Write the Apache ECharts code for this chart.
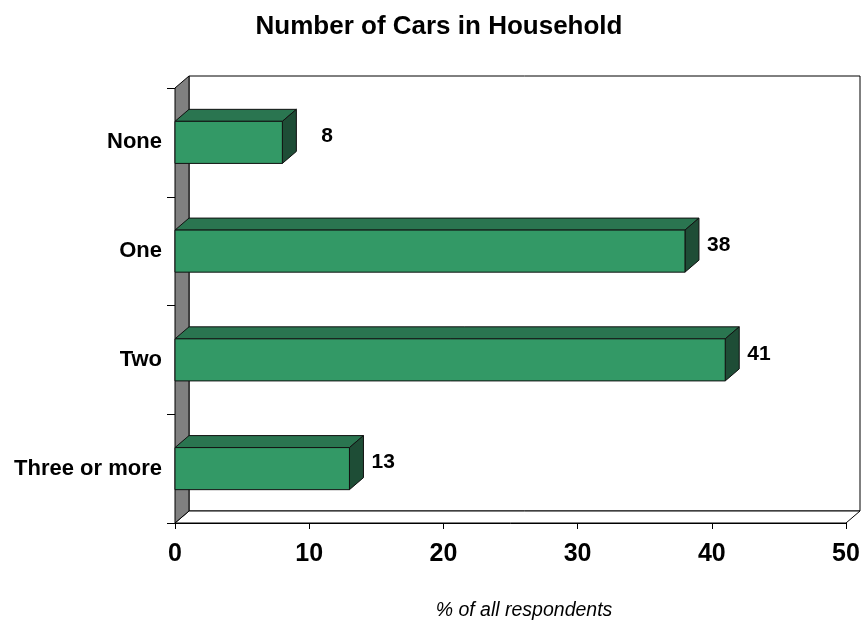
<!DOCTYPE html>
<html>
<head>
<meta charset="utf-8">
<script src="https://cdn.jsdelivr.net/npm/echarts@6/dist/echarts.min.js"></script>
<style>
  html, body { margin: 0; padding: 0; background: #ffffff; }
  #chart { width: 865px; height: 623px; }
</style>
</head>
<body>
<div id="chart"></div>
<script>
// Households by number of cars (% of all respondents)
const categories = ['None', 'One', 'Two', 'Three or more'];
const shares = [8, 38, 41, 13];
const xTicks = { min: 0, max: 50, step: 10 };

// Pseudo-3D depth of walls and bars (pixels)
const DX = 14, DY = -12;
const FONT = 'Liberation Sans, Arial, sans-serif';
const FRONT = '#339966', TOP = '#2a7550', SIDE = '#1e4d36';

const chart = echarts.init(document.getElementById('chart'));

function renderWalls(params, api) {
  const cs = params.coordSys;
  const x0 = cs.x, y0 = cs.y, x1 = cs.x + cs.width, y1 = cs.y + cs.height;
  const line = { stroke: '#000000', lineWidth: 1 };
  return {
    type: 'group',
    children: [
      { type: 'polygon', shape: { points: [[x0 + DX, y0 + DY], [x1 + DX, y0 + DY], [x1 + DX, y1 + DY], [x0 + DX, y1 + DY]] },
        style: Object.assign({ fill: '#ffffff' }, line) },
      { type: 'polygon', shape: { points: [[x0, y1], [x1, y1], [x1 + DX, y1 + DY], [x0 + DX, y1 + DY]] },
        style: Object.assign({ fill: '#ffffff' }, line) },
      { type: 'polygon', shape: { points: [[x0, y0], [x0, y1], [x0 + DX, y1 + DY], [x0 + DX, y0 + DY]] },
        style: Object.assign({ fill: '#808080' }, line) }
    ]
  };
}

// extra horizontal shift for the small "None" label
const labelShift = [17, 0, 0, 0];

function renderBar(params, api) {
  const val = api.value(0);
  const idx = api.value(1);
  const start = api.coord([0, idx]);
  const end = api.coord([val, idx]);
  const band = api.size([0, 1])[1];
  const h = band * 0.387;
  const xa = start[0], xb = end[0];
  const ya = end[1] - h / 2, yb = end[1] + h / 2;
  const edge = { stroke: '#111111', lineWidth: 1 };
  return {
    type: 'group',
    children: [
      { type: 'polygon', shape: { points: [[xa, ya], [xb, ya], [xb + DX, ya + DY], [xa + DX, ya + DY]] },
        style: Object.assign({ fill: TOP }, edge) },
      { type: 'polygon', shape: { points: [[xb, ya], [xb, yb], [xb + DX, yb + DY], [xb + DX, ya + DY]] },
        style: Object.assign({ fill: SIDE }, edge) },
      { type: 'rect', shape: { x: xa, y: ya, width: xb - xa, height: yb - ya },
        style: Object.assign({ fill: FRONT }, edge) },
      { type: 'text', x: xb + DX + 8 + labelShift[params.dataIndex], y: end[1] - 6,
        style: { text: String(val), fill: '#000000', font: 'bold 21px ' + FONT,
                 textAlign: 'left', textVerticalAlign: 'middle' } }
    ]
  };
}

chart.setOption({
  animation: false,
  backgroundColor: '#ffffff',
  grid: { left: 175, right: 19, top: 88, bottom: 100, containLabel: false },
  xAxis: {
    type: 'value', min: xTicks.min, max: xTicks.max, interval: xTicks.step,
    axisLine: { show: true, lineStyle: { color: '#000000', width: 1 } },
    axisTick: { show: true, length: 6, lineStyle: { color: '#000000' } },
    splitLine: { show: false },
    axisLabel: { color: '#000000', fontFamily: FONT, fontWeight: 'bold', fontSize: 25, margin: 19 }
  },
  yAxis: {
    type: 'category', data: categories, inverse: true,
    axisLine: { show: true, lineStyle: { color: '#000000', width: 1 } },
    axisTick: { show: true, length: 8, alignWithLabel: false, lineStyle: { color: '#000000' } },
    axisLabel: { color: '#000000', fontFamily: FONT, fontWeight: 'bold', fontSize: 22, margin: 13 }
  },
  graphic: [
    { type: 'text', x: 439, y: 27, z: 10,
      style: { text: 'Number of Cars in Household', font: 'bold 26px ' + FONT, fill: '#000000',
               textAlign: 'center', textVerticalAlign: 'middle' } },
    { type: 'text', x: 524, y: 611, z: 10,
      style: { text: '% of all respondents', font: 'italic 19.5px ' + FONT, fill: '#000000',
               textAlign: 'center', textVerticalAlign: 'middle' } }
  ],
  series: [
    { type: 'custom', name: 'walls', z: 1, silent: true,
      data: [[0, 0]], renderItem: renderWalls },
    { type: 'custom', name: 'households', z: 3,
      encode: { x: 0, y: 1 },
      data: shares.map((v, i) => [v, i]),
      renderItem: renderBar }
  ]
});
</script>
</body>
</html>
